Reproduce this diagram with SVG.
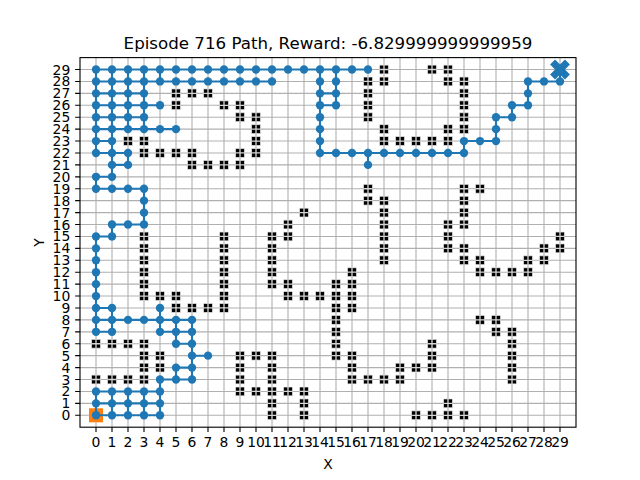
<svg xmlns="http://www.w3.org/2000/svg" xmlns:xlink="http://www.w3.org/1999/xlink" width="640" height="480" viewBox="0 0 640 480">
<style>
text{font-family:"DejaVu Sans","Liberation Sans",sans-serif;fill:#000}
.tk{font-size:13.9px}
.xt{text-anchor:middle}
.yt{text-anchor:end}
.grid{stroke:#b0b0b0;stroke-width:1.11;fill:none}
.tick{stroke:#000;stroke-width:1.11;fill:none}
.conn{stroke:#1f77b4;stroke-width:2.08;fill:none;stroke-linecap:square}
</style>
<defs>
<g id="ob"><rect x="-4.4" y="-4.4" width="8.8" height="8.8" fill="#000" stroke="#e2e2e2" stroke-width="0.7"/><path d="M0-4.4V4.4M-4.4 0H4.4" stroke="#d6d6d6" stroke-width="1.3"/></g>
<circle id="dt" r="4.17" fill="#1f77b4"/>
</defs>
<rect width="640" height="480" fill="#fff"/>
<g id="gridlines" class="grid">
<path d="M96 57.6V427.2M112 57.6V427.2M128 57.6V427.2M144 57.6V427.2M160 57.6V427.2M176 57.6V427.2M192 57.6V427.2M208 57.6V427.2M224 57.6V427.2M240 57.6V427.2M256 57.6V427.2M272 57.6V427.2M288 57.6V427.2M304 57.6V427.2M320 57.6V427.2M336 57.6V427.2M352 57.6V427.2M368 57.6V427.2M384 57.6V427.2M400 57.6V427.2M416 57.6V427.2M432 57.6V427.2M448 57.6V427.2M464 57.6V427.2M480 57.6V427.2M496 57.6V427.2M512 57.6V427.2M528 57.6V427.2M544 57.6V427.2M560 57.6V427.2"/>
<path d="M80 415.28H576M80 403.36H576M80 391.43H576M80 379.51H576M80 367.59H576M80 355.67H576M80 343.74H576M80 331.82H576M80 319.9H576M80 307.97H576M80 296.05H576M80 284.13H576M80 272.2H576M80 260.28H576M80 248.36H576M80 236.44H576M80 224.51H576M80 212.59H576M80 200.67H576M80 188.74H576M80 176.82H576M80 164.9H576M80 152.97H576M80 141.05H576M80 129.13H576M80 117.21H576M80 105.28H576M80 93.36H576M80 81.44H576M80 69.51H576"/>
</g>
<g id="obstacles">
<use href="#ob" x="384" y="69.51"/><use href="#ob" x="432" y="69.51"/><use href="#ob" x="448" y="69.51"/>
<use href="#ob" x="368" y="81.44"/><use href="#ob" x="384" y="81.44"/><use href="#ob" x="448" y="81.44"/><use href="#ob" x="464" y="81.44"/>
<use href="#ob" x="176" y="93.36"/><use href="#ob" x="192" y="93.36"/><use href="#ob" x="208" y="93.36"/><use href="#ob" x="368" y="93.36"/><use href="#ob" x="464" y="93.36"/>
<use href="#ob" x="176" y="105.28"/><use href="#ob" x="224" y="105.28"/><use href="#ob" x="240" y="105.28"/><use href="#ob" x="368" y="105.28"/><use href="#ob" x="464" y="105.28"/>
<use href="#ob" x="240" y="117.21"/><use href="#ob" x="256" y="117.21"/><use href="#ob" x="368" y="117.21"/><use href="#ob" x="464" y="117.21"/>
<use href="#ob" x="256" y="129.13"/><use href="#ob" x="384" y="129.13"/><use href="#ob" x="448" y="129.13"/><use href="#ob" x="464" y="129.13"/>
<use href="#ob" x="128" y="141.05"/><use href="#ob" x="144" y="141.05"/><use href="#ob" x="256" y="141.05"/><use href="#ob" x="384" y="141.05"/><use href="#ob" x="400" y="141.05"/><use href="#ob" x="416" y="141.05"/><use href="#ob" x="432" y="141.05"/><use href="#ob" x="448" y="141.05"/>
<use href="#ob" x="144" y="152.97"/><use href="#ob" x="160" y="152.97"/><use href="#ob" x="176" y="152.97"/><use href="#ob" x="192" y="152.97"/><use href="#ob" x="240" y="152.97"/><use href="#ob" x="256" y="152.97"/>
<use href="#ob" x="192" y="164.9"/><use href="#ob" x="208" y="164.9"/><use href="#ob" x="224" y="164.9"/><use href="#ob" x="240" y="164.9"/>
<use href="#ob" x="368" y="188.74"/><use href="#ob" x="464" y="188.74"/><use href="#ob" x="480" y="188.74"/>
<use href="#ob" x="368" y="200.67"/><use href="#ob" x="384" y="200.67"/><use href="#ob" x="464" y="200.67"/>
<use href="#ob" x="304" y="212.59"/><use href="#ob" x="384" y="212.59"/><use href="#ob" x="464" y="212.59"/>
<use href="#ob" x="288" y="224.51"/><use href="#ob" x="384" y="224.51"/><use href="#ob" x="448" y="224.51"/><use href="#ob" x="464" y="224.51"/>
<use href="#ob" x="144" y="236.44"/><use href="#ob" x="224" y="236.44"/><use href="#ob" x="272" y="236.44"/><use href="#ob" x="288" y="236.44"/><use href="#ob" x="384" y="236.44"/><use href="#ob" x="448" y="236.44"/><use href="#ob" x="560" y="236.44"/>
<use href="#ob" x="144" y="248.36"/><use href="#ob" x="224" y="248.36"/><use href="#ob" x="272" y="248.36"/><use href="#ob" x="384" y="248.36"/><use href="#ob" x="448" y="248.36"/><use href="#ob" x="464" y="248.36"/><use href="#ob" x="544" y="248.36"/><use href="#ob" x="560" y="248.36"/>
<use href="#ob" x="144" y="260.28"/><use href="#ob" x="224" y="260.28"/><use href="#ob" x="272" y="260.28"/><use href="#ob" x="384" y="260.28"/><use href="#ob" x="464" y="260.28"/><use href="#ob" x="480" y="260.28"/><use href="#ob" x="528" y="260.28"/><use href="#ob" x="544" y="260.28"/>
<use href="#ob" x="144" y="272.2"/><use href="#ob" x="224" y="272.2"/><use href="#ob" x="272" y="272.2"/><use href="#ob" x="352" y="272.2"/><use href="#ob" x="480" y="272.2"/><use href="#ob" x="496" y="272.2"/><use href="#ob" x="512" y="272.2"/><use href="#ob" x="528" y="272.2"/>
<use href="#ob" x="144" y="284.13"/><use href="#ob" x="224" y="284.13"/><use href="#ob" x="272" y="284.13"/><use href="#ob" x="288" y="284.13"/><use href="#ob" x="336" y="284.13"/><use href="#ob" x="352" y="284.13"/>
<use href="#ob" x="144" y="296.05"/><use href="#ob" x="160" y="296.05"/><use href="#ob" x="176" y="296.05"/><use href="#ob" x="224" y="296.05"/><use href="#ob" x="288" y="296.05"/><use href="#ob" x="304" y="296.05"/><use href="#ob" x="320" y="296.05"/><use href="#ob" x="336" y="296.05"/><use href="#ob" x="352" y="296.05"/>
<use href="#ob" x="176" y="307.97"/><use href="#ob" x="192" y="307.97"/><use href="#ob" x="208" y="307.97"/><use href="#ob" x="224" y="307.97"/><use href="#ob" x="336" y="307.97"/><use href="#ob" x="352" y="307.97"/>
<use href="#ob" x="336" y="319.9"/><use href="#ob" x="480" y="319.9"/><use href="#ob" x="496" y="319.9"/>
<use href="#ob" x="336" y="331.82"/><use href="#ob" x="496" y="331.82"/><use href="#ob" x="512" y="331.82"/>
<use href="#ob" x="96" y="343.74"/><use href="#ob" x="112" y="343.74"/><use href="#ob" x="128" y="343.74"/><use href="#ob" x="144" y="343.74"/><use href="#ob" x="336" y="343.74"/><use href="#ob" x="432" y="343.74"/><use href="#ob" x="512" y="343.74"/>
<use href="#ob" x="144" y="355.67"/><use href="#ob" x="160" y="355.67"/><use href="#ob" x="240" y="355.67"/><use href="#ob" x="256" y="355.67"/><use href="#ob" x="272" y="355.67"/><use href="#ob" x="336" y="355.67"/><use href="#ob" x="352" y="355.67"/><use href="#ob" x="432" y="355.67"/><use href="#ob" x="512" y="355.67"/>
<use href="#ob" x="144" y="367.59"/><use href="#ob" x="160" y="367.59"/><use href="#ob" x="240" y="367.59"/><use href="#ob" x="272" y="367.59"/><use href="#ob" x="352" y="367.59"/><use href="#ob" x="400" y="367.59"/><use href="#ob" x="416" y="367.59"/><use href="#ob" x="432" y="367.59"/><use href="#ob" x="512" y="367.59"/>
<use href="#ob" x="96" y="379.51"/><use href="#ob" x="112" y="379.51"/><use href="#ob" x="128" y="379.51"/><use href="#ob" x="144" y="379.51"/><use href="#ob" x="240" y="379.51"/><use href="#ob" x="272" y="379.51"/><use href="#ob" x="352" y="379.51"/><use href="#ob" x="368" y="379.51"/><use href="#ob" x="384" y="379.51"/><use href="#ob" x="400" y="379.51"/><use href="#ob" x="512" y="379.51"/>
<use href="#ob" x="240" y="391.43"/><use href="#ob" x="256" y="391.43"/><use href="#ob" x="272" y="391.43"/><use href="#ob" x="288" y="391.43"/><use href="#ob" x="304" y="391.43"/>
<use href="#ob" x="272" y="403.36"/><use href="#ob" x="304" y="403.36"/><use href="#ob" x="448" y="403.36"/>
<use href="#ob" x="272" y="415.28"/><use href="#ob" x="304" y="415.28"/><use href="#ob" x="416" y="415.28"/><use href="#ob" x="432" y="415.28"/><use href="#ob" x="448" y="415.28"/><use href="#ob" x="464" y="415.28"/>
</g>
<g id="start"><rect x="89" y="408.28" width="14" height="14" fill="#ff7f0e"/></g>
<g id="connectors" class="conn">
<path d="M96 69.51H368M96 81.44H272M528 81.44H560M96 93.36H144M320 93.36H336M96 105.28H160M320 105.28H336M512 105.28H528M96 117.21H144M496 117.21H512M96 129.13H176M96 141.05H112M464 141.05H496M96 152.97H128M320 152.97H464M112 164.9H128M96 176.82H112M96 188.74H144M112 224.51H144M96 236.44H112M96 307.97H112M96 319.9H192M96 331.82H112M160 331.82H192M176 343.74H192M192 355.67H208M176 367.59H192M160 379.51H192M96 391.43H160M96 403.36H160M96 415.28H160"/>
<path d="M96 69.51V152.97M96 176.82V188.74M96 236.44V331.82M96 391.43V415.28M112 69.51V176.82M112 224.51V236.44M112 307.97V331.82M112 391.43V415.28M128 69.51V129.13M128 152.97V164.9M128 391.43V415.28M144 69.51V129.13M144 188.74V224.51M144 391.43V415.28M160 69.51V81.44M160 307.97V331.82M160 379.51V415.28M176 319.9V343.74M176 367.59V379.51M192 319.9V379.51M320 69.51V152.97M336 69.51V105.28M368 152.97V164.9M464 141.05V152.97M496 117.21V141.05M512 105.28V117.21M528 81.44V105.28M560 69.51V81.44"/>
</g>
<g id="path-points">
<use href="#dt" x="96" y="69.51"/><use href="#dt" x="112" y="69.51"/><use href="#dt" x="128" y="69.51"/><use href="#dt" x="144" y="69.51"/><use href="#dt" x="160" y="69.51"/><use href="#dt" x="176" y="69.51"/><use href="#dt" x="192" y="69.51"/><use href="#dt" x="208" y="69.51"/><use href="#dt" x="224" y="69.51"/><use href="#dt" x="240" y="69.51"/><use href="#dt" x="256" y="69.51"/><use href="#dt" x="272" y="69.51"/><use href="#dt" x="288" y="69.51"/><use href="#dt" x="304" y="69.51"/><use href="#dt" x="320" y="69.51"/><use href="#dt" x="336" y="69.51"/><use href="#dt" x="352" y="69.51"/><use href="#dt" x="368" y="69.51"/><use href="#dt" x="560" y="69.51"/>
<use href="#dt" x="96" y="81.44"/><use href="#dt" x="112" y="81.44"/><use href="#dt" x="128" y="81.44"/><use href="#dt" x="144" y="81.44"/><use href="#dt" x="160" y="81.44"/><use href="#dt" x="176" y="81.44"/><use href="#dt" x="192" y="81.44"/><use href="#dt" x="208" y="81.44"/><use href="#dt" x="224" y="81.44"/><use href="#dt" x="240" y="81.44"/><use href="#dt" x="256" y="81.44"/><use href="#dt" x="272" y="81.44"/><use href="#dt" x="320" y="81.44"/><use href="#dt" x="336" y="81.44"/><use href="#dt" x="528" y="81.44"/><use href="#dt" x="544" y="81.44"/><use href="#dt" x="560" y="81.44"/>
<use href="#dt" x="96" y="93.36"/><use href="#dt" x="112" y="93.36"/><use href="#dt" x="128" y="93.36"/><use href="#dt" x="144" y="93.36"/><use href="#dt" x="320" y="93.36"/><use href="#dt" x="336" y="93.36"/><use href="#dt" x="528" y="93.36"/>
<use href="#dt" x="96" y="105.28"/><use href="#dt" x="112" y="105.28"/><use href="#dt" x="128" y="105.28"/><use href="#dt" x="144" y="105.28"/><use href="#dt" x="160" y="105.28"/><use href="#dt" x="320" y="105.28"/><use href="#dt" x="336" y="105.28"/><use href="#dt" x="512" y="105.28"/><use href="#dt" x="528" y="105.28"/>
<use href="#dt" x="96" y="117.21"/><use href="#dt" x="112" y="117.21"/><use href="#dt" x="128" y="117.21"/><use href="#dt" x="144" y="117.21"/><use href="#dt" x="320" y="117.21"/><use href="#dt" x="496" y="117.21"/><use href="#dt" x="512" y="117.21"/>
<use href="#dt" x="96" y="129.13"/><use href="#dt" x="112" y="129.13"/><use href="#dt" x="128" y="129.13"/><use href="#dt" x="144" y="129.13"/><use href="#dt" x="160" y="129.13"/><use href="#dt" x="176" y="129.13"/><use href="#dt" x="320" y="129.13"/><use href="#dt" x="496" y="129.13"/>
<use href="#dt" x="96" y="141.05"/><use href="#dt" x="112" y="141.05"/><use href="#dt" x="320" y="141.05"/><use href="#dt" x="464" y="141.05"/><use href="#dt" x="480" y="141.05"/><use href="#dt" x="496" y="141.05"/>
<use href="#dt" x="96" y="152.97"/><use href="#dt" x="112" y="152.97"/><use href="#dt" x="128" y="152.97"/><use href="#dt" x="320" y="152.97"/><use href="#dt" x="336" y="152.97"/><use href="#dt" x="352" y="152.97"/><use href="#dt" x="368" y="152.97"/><use href="#dt" x="384" y="152.97"/><use href="#dt" x="400" y="152.97"/><use href="#dt" x="416" y="152.97"/><use href="#dt" x="432" y="152.97"/><use href="#dt" x="448" y="152.97"/><use href="#dt" x="464" y="152.97"/>
<use href="#dt" x="112" y="164.9"/><use href="#dt" x="128" y="164.9"/><use href="#dt" x="368" y="164.9"/>
<use href="#dt" x="96" y="176.82"/><use href="#dt" x="112" y="176.82"/>
<use href="#dt" x="96" y="188.74"/><use href="#dt" x="112" y="188.74"/><use href="#dt" x="128" y="188.74"/><use href="#dt" x="144" y="188.74"/>
<use href="#dt" x="144" y="200.67"/><use href="#dt" x="144" y="212.59"/>
<use href="#dt" x="112" y="224.51"/><use href="#dt" x="128" y="224.51"/><use href="#dt" x="144" y="224.51"/>
<use href="#dt" x="96" y="236.44"/><use href="#dt" x="112" y="236.44"/>
<use href="#dt" x="96" y="248.36"/><use href="#dt" x="96" y="260.28"/><use href="#dt" x="96" y="272.2"/><use href="#dt" x="96" y="284.13"/><use href="#dt" x="96" y="296.05"/>
<use href="#dt" x="96" y="307.97"/><use href="#dt" x="112" y="307.97"/><use href="#dt" x="160" y="307.97"/>
<use href="#dt" x="96" y="319.9"/><use href="#dt" x="112" y="319.9"/><use href="#dt" x="128" y="319.9"/><use href="#dt" x="144" y="319.9"/><use href="#dt" x="160" y="319.9"/><use href="#dt" x="176" y="319.9"/><use href="#dt" x="192" y="319.9"/>
<use href="#dt" x="96" y="331.82"/><use href="#dt" x="112" y="331.82"/><use href="#dt" x="160" y="331.82"/><use href="#dt" x="176" y="331.82"/><use href="#dt" x="192" y="331.82"/>
<use href="#dt" x="176" y="343.74"/><use href="#dt" x="192" y="343.74"/>
<use href="#dt" x="192" y="355.67"/><use href="#dt" x="208" y="355.67"/>
<use href="#dt" x="176" y="367.59"/><use href="#dt" x="192" y="367.59"/>
<use href="#dt" x="160" y="379.51"/><use href="#dt" x="176" y="379.51"/><use href="#dt" x="192" y="379.51"/>
<use href="#dt" x="96" y="391.43"/><use href="#dt" x="112" y="391.43"/><use href="#dt" x="128" y="391.43"/><use href="#dt" x="144" y="391.43"/><use href="#dt" x="160" y="391.43"/>
<use href="#dt" x="96" y="403.36"/><use href="#dt" x="112" y="403.36"/><use href="#dt" x="128" y="403.36"/><use href="#dt" x="144" y="403.36"/><use href="#dt" x="160" y="403.36"/>
<use href="#dt" x="96" y="415.28"/><use href="#dt" x="112" y="415.28"/><use href="#dt" x="128" y="415.28"/><use href="#dt" x="144" y="415.28"/><use href="#dt" x="160" y="415.28"/>
</g>
<g id="goal"><polygon transform="translate(560 69.51) rotate(45)" fill="#1f77b4" points="-3.5,-10.5 3.5,-10.5 3.5,-3.5 10.5,-3.5 10.5,3.5 3.5,3.5 3.5,10.5 -3.5,10.5 -3.5,3.5 -10.5,3.5 -10.5,-3.5 -3.5,-3.5"/></g>
<g id="axes">
<rect x="80" y="57.6" width="496" height="369.6" fill="none" stroke="#000" stroke-width="1.11"/>
<path class="tick" d="M96 427.2v4.86M112 427.2v4.86M128 427.2v4.86M144 427.2v4.86M160 427.2v4.86M176 427.2v4.86M192 427.2v4.86M208 427.2v4.86M224 427.2v4.86M240 427.2v4.86M256 427.2v4.86M272 427.2v4.86M288 427.2v4.86M304 427.2v4.86M320 427.2v4.86M336 427.2v4.86M352 427.2v4.86M368 427.2v4.86M384 427.2v4.86M400 427.2v4.86M416 427.2v4.86M432 427.2v4.86M448 427.2v4.86M464 427.2v4.86M480 427.2v4.86M496 427.2v4.86M512 427.2v4.86M528 427.2v4.86M544 427.2v4.86M560 427.2v4.86"/>
<path class="tick" d="M80 415.28h-4.86M80 403.36h-4.86M80 391.43h-4.86M80 379.51h-4.86M80 367.59h-4.86M80 355.67h-4.86M80 343.74h-4.86M80 331.82h-4.86M80 319.9h-4.86M80 307.97h-4.86M80 296.05h-4.86M80 284.13h-4.86M80 272.2h-4.86M80 260.28h-4.86M80 248.36h-4.86M80 236.44h-4.86M80 224.51h-4.86M80 212.59h-4.86M80 200.67h-4.86M80 188.74h-4.86M80 176.82h-4.86M80 164.9h-4.86M80 152.97h-4.86M80 141.05h-4.86M80 129.13h-4.86M80 117.21h-4.86M80 105.28h-4.86M80 93.36h-4.86M80 81.44h-4.86M80 69.51h-4.86"/>
<g class="tk xt">
<text x="96" y="447">0</text><text x="112" y="447">1</text><text x="128" y="447">2</text><text x="144" y="447">3</text><text x="160" y="447">4</text><text x="176" y="447">5</text><text x="192" y="447">6</text><text x="208" y="447">7</text><text x="224" y="447">8</text><text x="240" y="447">9</text><text x="256" y="447">10</text><text x="272" y="447">11</text><text x="288" y="447">12</text><text x="304" y="447">13</text><text x="320" y="447">14</text><text x="336" y="447">15</text><text x="352" y="447">16</text><text x="368" y="447">17</text><text x="384" y="447">18</text><text x="400" y="447">19</text><text x="416" y="447">20</text><text x="432" y="447">21</text><text x="448" y="447">22</text><text x="464" y="447">23</text><text x="480" y="447">24</text><text x="496" y="447">25</text><text x="512" y="447">26</text><text x="528" y="447">27</text><text x="544" y="447">28</text><text x="560" y="447">29</text>
</g>
<g class="tk yt">
<text x="70.3" y="420.33">0</text><text x="70.3" y="408.41">1</text><text x="70.3" y="396.48">2</text><text x="70.3" y="384.56">3</text><text x="70.3" y="372.64">4</text><text x="70.3" y="360.72">5</text><text x="70.3" y="348.79">6</text><text x="70.3" y="336.87">7</text><text x="70.3" y="324.95">8</text><text x="70.3" y="313.02">9</text><text x="70.3" y="301.1">10</text><text x="70.3" y="289.18">11</text><text x="70.3" y="277.25">12</text><text x="70.3" y="265.33">13</text><text x="70.3" y="253.41">14</text><text x="70.3" y="241.49">15</text><text x="70.3" y="229.56">16</text><text x="70.3" y="217.64">17</text><text x="70.3" y="205.72">18</text><text x="70.3" y="193.79">19</text><text x="70.3" y="181.87">20</text><text x="70.3" y="169.95">21</text><text x="70.3" y="158.02">22</text><text x="70.3" y="146.1">23</text><text x="70.3" y="134.18">24</text><text x="70.3" y="122.26">25</text><text x="70.3" y="110.33">26</text><text x="70.3" y="98.41">27</text><text x="70.3" y="86.49">28</text><text x="70.3" y="74.56">29</text>
</g>
<text class="tk" x="328" y="468.5" text-anchor="middle">X</text>
<text class="tk" x="0" y="0" text-anchor="middle" transform="translate(44 242.4) rotate(-90)">Y</text>
<text x="328" y="49.3" text-anchor="middle" font-size="16.67">Episode 716 Path, Reward: -6.829999999999959</text>
</g>
</svg>
